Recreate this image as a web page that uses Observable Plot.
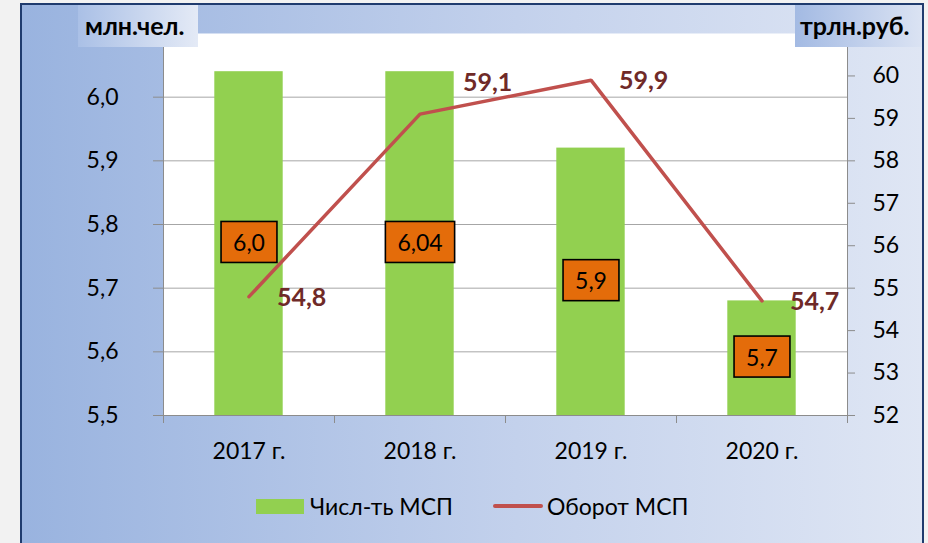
<!DOCTYPE html>
<html>
<head>
<meta charset="utf-8">
<script src="https://cdn.jsdelivr.net/npm/d3@7"></script>
<script src="https://cdn.jsdelivr.net/npm/@observablehq/plot@0.6"></script>
<style>
  html, body { margin: 0; padding: 0; width: 928px; height: 543px; overflow: hidden; background: #f2f2f2; font-family: Lato, "Open Sans", sans-serif; }
  #frame { position: absolute; left: 20px; top: 3px; width: 900px; height: 580px; border: 2px solid #1f3b6e;
           background: linear-gradient(to right, #99b3df, #c3d1ec 55%, #dfe6f4); }
  .unit { position: absolute; z-index: 5; top: 5px; height: 42px; line-height: 40px; font-weight: bold; font-size: 25px; color: #000; box-sizing: border-box; }
  #unitL { left: 78px; width: 120px; padding-left: 7px; background: linear-gradient(to right, #aac0e6, #e4eaf6); }
  #unitR { left: 795px; width: 127px; padding-left: 5px; background: linear-gradient(to right, #a3bae3, #dbe3f3); }
  #chart { position: absolute; left: 0; top: 0; z-index: 2; }
  #legend { position: absolute; top: 490px; left: 0; width: 928px; height: 32px; font-size: 23px; color: #000; z-index: 3; }
  .sw { position: absolute; }
  .lt { position: absolute; top: 0; line-height: 32px; }
</style>
</head>
<body>
<div id="frame"></div>
<div class="unit" id="unitL">млн.чел.</div>
<div class="unit" id="unitR">трлн.руб.</div>
<div id="chart"></div>
<div id="legend">
  <div class="sw" style="left:256px; top:9px; width:48px; height:15px; background:#92d050;"></div>
  <div class="lt" style="left:310px;">Числ-ть МСП</div>
  <div class="sw" style="left:493px; top:14px; width:50px; height:4px; border-radius:2px; background:#c0504d;"></div>
  <div class="lt" style="left:547px;">Оборот МСП</div>
</div>
<script>
const years = ["2017 г.", "2018 г.", "2019 г.", "2020 г."];
const countValues = [6.04, 6.04, 5.92, 5.68];
const countLabels = ["6,0", "6,04", "5,9", "5,7"];
const turnoverValues = [54.8, 59.1, 59.9, 54.7];
const turnoverLabels = ["54,8", "59,1", "59,9", "54,7"];
const leftTicks = [5.5, 5.6, 5.7, 5.8, 5.9, 6.0];
const rightTicks = [52, 53, 54, 55, 56, 57, 58, 59, 60];

const leftDomain = [5.5, 6.1];
const rightDomain = [52, 61];
const toLeft = d3.scaleLinear().domain(rightDomain).range(leftDomain);

const rows = years.map((year, i) => ({
  i, year,
  count: countValues[i], countLabel: countLabels[i],
  turnover: turnoverValues[i], turnoverLabel: turnoverLabels[i]
}));

const font = 'Lato, "Open Sans", sans-serif';
const grey = "#8c8c8c";

const plot = Plot.plot({
  width: 928,
  height: 543,
  marginLeft: 163,
  marginRight: 81,
  marginTop: 33,
  marginBottom: 128,
  style: { background: "transparent", fontFamily: font, fontSize: "23px", color: "#000" },
  x: { type: "linear", domain: [0, years.length] },
  y: { domain: leftDomain },
  marks: [
    Plot.frame({ fill: "white", stroke: "none" }),
    Plot.ruleY(leftTicks.filter(t => t > 5.5), { stroke: "#a6a6a6", strokeWidth: 1 }),
    Plot.rectY(rows, { x1: d => d.i + 0.3, x2: d => d.i + 0.7, y1: leftDomain[0], y2: "count", fill: "#92d050" }),
    Plot.ruleY([leftDomain[0]], { stroke: grey }),
    Plot.ruleX([0, years.length], { stroke: grey }),
    Plot.axisX({ ticks: d3.range(years.length + 1), tickSize: 8, tickFormat: () => "", stroke: grey, label: null }),
    Plot.axisX({ ticks: years.map((_, i) => i + 0.5), tickSize: 0, tickPadding: 27, tickFormat: v => years[Math.floor(v)], fill: "#000", fontSize: 23, label: null }),
    Plot.axisY({ anchor: "left", ticks: leftTicks, tickSize: 10, tickPadding: 35, stroke: grey, fill: "#000", fontSize: 23, label: null,
                 tickFormat: v => v.toFixed(1).replace(".", ",") }),
    Plot.axisY({ anchor: "right", ticks: rightTicks.map(toLeft), tickSize: 7, tickPadding: 18, stroke: grey, fill: "#000", fontSize: 23, label: null,
                 tickFormat: v => String(Math.round(toLeft.invert(v))) }),
    Plot.line(rows, { x: d => d.i + 0.5, y: d => toLeft(d.turnover), stroke: "#c0504d", strokeWidth: 3.5, strokeLinejoin: "miter" }),
    Plot.text(rows.filter(d => d.i !== 1), { x: d => d.i + 0.5, y: d => toLeft(d.turnover), text: "turnoverLabel",
                 textAnchor: "start", dx: 28, dy: 1, fill: "#6f2a28", fontWeight: "bold", fontSize: 25 }),
    Plot.text(rows.filter(d => d.i === 1), { x: d => d.i + 0.5, y: d => toLeft(d.turnover), text: "turnoverLabel",
                 textAnchor: "start", dx: 43, dy: -31, fill: "#6f2a28", fontWeight: "bold", fontSize: 25 }),
    Plot.text(rows, { x: d => d.i + 0.5, y: d => (leftDomain[0] + d.count) / 2, text: "countLabel",
                 fill: "#000", fontSize: 23 })
  ]
});

document.getElementById("chart").appendChild(plot);

// orange boxes behind the bar value labels (the last text mark), sized from the rendered text
const textGroups = plot.querySelectorAll('g[aria-label="text"]');
const labG = textGroups[textGroups.length - 1];
if (labG) {
  Array.from(labG.querySelectorAll("text")).forEach(t => {
    const bb = t.getBBox();
    const cy = bb.y + bb.height / 2;
    const r = document.createElementNS("http://www.w3.org/2000/svg", "rect");
    r.setAttribute("x", bb.x - 12);
    r.setAttribute("y", cy - 20.5);
    r.setAttribute("width", bb.width + 24);
    r.setAttribute("height", 41);
    r.setAttribute("fill", "#e46c0a");
    r.setAttribute("stroke", "#000");
    r.setAttribute("stroke-width", 1.6);
    const tr = t.getAttribute("transform");
    if (tr) r.setAttribute("transform", tr);
    labG.insertBefore(r, t);
  });
}
</script>
</body>
</html>
